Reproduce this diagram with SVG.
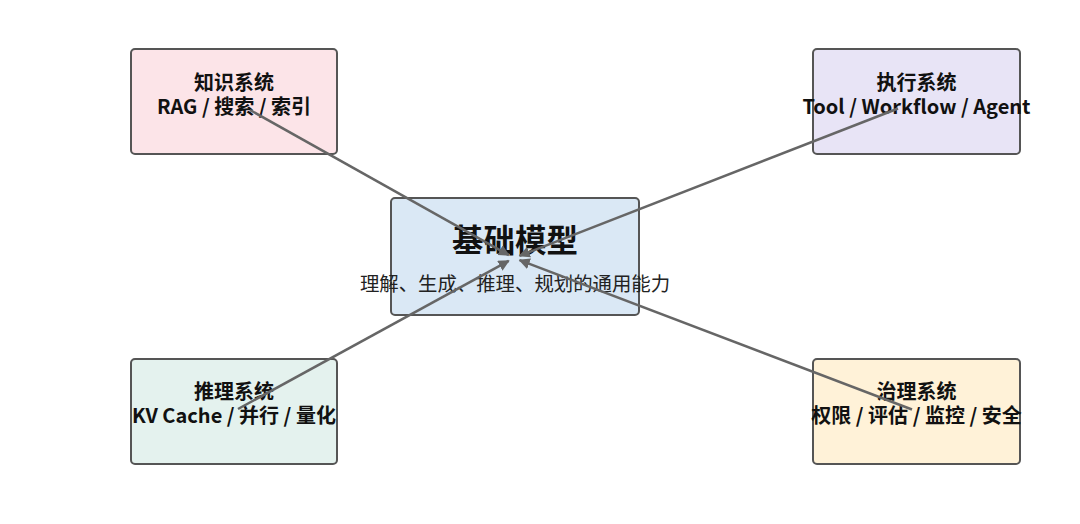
<svg xmlns="http://www.w3.org/2000/svg" width="1080" height="524" viewBox="0 0 1080 524">
<style>
.box{stroke:#555;stroke-width:2}
.t{font-family:"Noto Sans CJK SC","Noto Sans",sans-serif;font-size:20px;font-weight:bold;fill:#111;text-anchor:middle}
.title{font-family:"Noto Sans CJK SC","Noto Sans",sans-serif;font-size:31.5px;font-weight:bold;fill:#111;text-anchor:middle}
.sub{font-family:"Noto Sans CJK SC","Noto Sans",sans-serif;font-size:19.4px;fill:#222;text-anchor:middle}
.edge{stroke:#666;stroke-width:2.5;fill:none;marker-end:url(#arr)}
</style>
<defs>
<marker id="arr" viewBox="0 0 10 10" refX="9" refY="5" markerWidth="4.5" markerHeight="4.5" orient="auto" markerUnits="strokeWidth">
<path d="M0,0 L10,5 L0,10 z" fill="#666"/>
</marker>
</defs>
<rect width="1080" height="524" fill="#fff"/>
<g id="center">
<rect class="box" x="391" y="198" width="248" height="117" rx="4" fill="#dae8f5"/>
<text class="title" x="515" y="252">基础模型</text>
<text class="sub" x="515" y="291">理解、生成、推理、规划的通用能力</text>
</g>
<g id="knowledge">
<rect class="box" x="131" y="49" width="206" height="105" rx="4" fill="#fce4e8"/>
<text class="t" x="234" y="90">知识系统<tspan x="234" dy="24">RAG / 搜索 / 索引</tspan></text>
</g>
<g id="execution">
<rect class="box" x="813" y="49" width="207" height="105" rx="4" fill="#e8e4f6"/>
<text class="t" x="916.5" y="90">执行系统<tspan x="916.5" dy="24">Tool / Workflow / Agent</tspan></text>
</g>
<g id="inference">
<rect class="box" x="131" y="359" width="206" height="105" rx="4" fill="#e4f2ee"/>
<text class="t" x="234" y="399">推理系统<tspan x="234" dy="24">KV Cache / 并行 / 量化</tspan></text>
</g>
<g id="governance">
<rect class="box" x="813" y="359" width="207" height="105" rx="4" fill="#fff2d8"/>
<text class="t" x="916.5" y="399">治理系统<tspan x="916.5" dy="24">权限 / 评估 / 监控 / 安全</tspan></text>
</g>
<g id="connectors">
<line class="edge" x1="250" y1="110" x2="508.8" y2="255.1"/>
<line class="edge" x1="898" y1="108.5" x2="519.6" y2="255.8"/>
<line class="edge" x1="238" y1="409" x2="508.7" y2="260.9"/>
<line class="edge" x1="912" y1="409.5" x2="519.6" y2="260.1"/>
</g>
</svg>
